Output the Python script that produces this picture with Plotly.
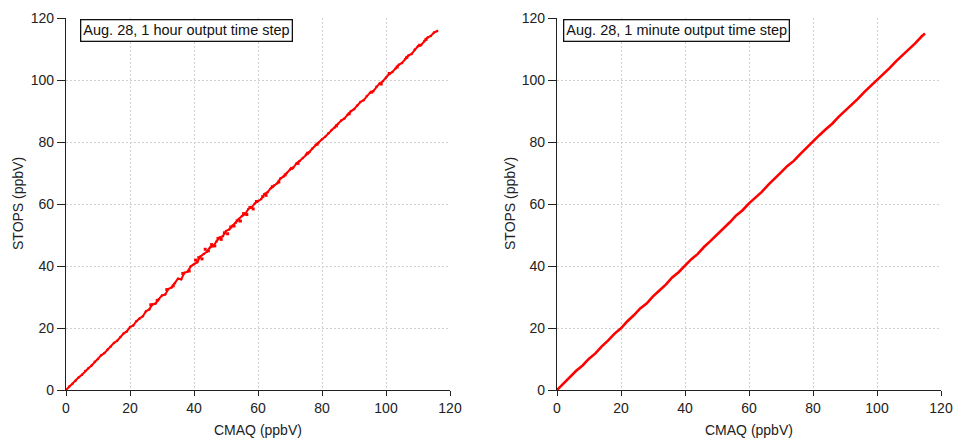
import plotly.graph_objects as go

# Left panel: 1 hour output time step (main trend of the dense cloud)
cmaq_hour = list(range(0, 117))
stops_hour = [
    0.0, 1.1, 1.9, 3.0, 4.1, 4.9, 6.1, 7.0, 7.9, 9.1,
    10.0, 11.2, 11.9, 13.1, 14.0, 15.2, 15.9, 17.1, 18.2, 18.9,
    20.3, 20.8, 22.2, 23.1, 23.8, 25.4, 26.0, 27.6, 27.9, 29.3,
    30.5, 30.8, 32.6, 33.1, 34.4, 35.9, 35.7, 37.8, 38.2, 39.9,
    40.6, 41.2, 43.1, 43.9, 44.6, 46.0, 46.4, 47.9, 49.2, 49.6,
    51.3, 51.8, 53.0, 53.9, 55.2, 56.1, 56.8, 58.4, 58.9, 60.2,
    61.0, 61.6, 63.2, 63.8, 65.1, 66.0, 66.7, 68.2, 68.9, 70.0,
    71.1, 71.7, 73.1, 73.9, 74.8, 76.0, 76.7, 77.9, 79.0, 79.8,
    80.9, 81.7, 82.8, 83.9, 84.7, 85.8, 86.9, 87.6, 88.8, 89.9,
    90.6, 91.8, 92.9, 93.5, 94.8, 95.9, 96.4, 97.8, 98.9, 99.6,
    100.8, 101.9, 102.6, 103.7, 104.9, 105.5, 106.8, 107.9, 108.4, 109.8,
    110.9, 111.3, 112.6, 113.7, 114.2, 115.3, 115.8,
]

# Left panel: scattered points around the cloud
cmaq_hour_extra = [26.5, 28.5, 31.5, 33.5, 36.5, 38.5, 40.5, 41.5, 42.5, 43.5,
                   44.5, 45.5, 46.5, 47.5, 48.5, 49.5, 50.5, 51.5, 52.5, 53.5,
                   54.5, 55.5, 56.5, 57.5, 58.5, 59.5, 61.5, 62.5, 64.5, 66.5,
                   68.5, 70.5, 72.5, 75.5, 78.5, 84.5, 88.5, 95.5, 98.5, 101.0,
                   103.5, 106.5, 110.5, 112.5]
stops_hour_extra = [27.5, 28.9, 32.4, 33.6, 37.6, 38.4, 41.9, 42.7, 42.3, 45.4,
                    44.9, 46.9, 46.5, 48.9, 48.6, 50.7, 50.4, 52.6, 52.9, 54.6,
                    54.5, 56.9, 56.6, 58.9, 58.4, 60.8, 62.4, 62.8, 65.6, 67.1,
                    69.4, 71.5, 73.1, 76.4, 79.3, 85.2, 89.1, 96.1, 98.7, 102.1,
                    104.2, 107.3, 111.2, 113.1]

# Right panel: 1 minute output time step
cmaq_minute = [0, 2, 4, 6, 8, 10, 12, 14, 16, 18, 20, 22, 24, 26, 28, 30,
               32, 34, 36, 38, 40, 42, 44, 46, 48, 50, 52, 54, 56, 58, 60,
               62, 64, 66, 68, 70, 72, 74, 76, 78, 80, 82, 84, 86, 88, 90,
               92, 94, 96, 98, 100, 102, 104, 106, 108, 110, 112, 114, 115]
stops_minute = [0.0, 2.1, 3.9, 6.2, 7.9, 10.1, 11.8, 14.1, 16.0, 18.2, 19.9,
                22.2, 24.1, 26.3, 27.9, 30.2, 32.1, 34.0, 36.3, 38.0, 40.1,
                42.2, 43.9, 46.2, 48.1, 50.0, 52.2, 54.1, 56.3, 58.0, 60.2,
                62.1, 63.9, 66.2, 68.1, 70.2, 72.3, 73.9, 76.1, 78.2, 80.0,
                82.2, 84.1, 85.9, 88.1, 90.0, 92.2, 93.9, 96.1, 98.0, 100.2,
                102.0, 103.9, 106.1, 108.0, 110.1, 111.9, 114.1, 115.0]

tick_vals = [0, 20, 40, 60, 80, 100, 120]
tick_text = ["0", "20", "40", "60", "80", "100", "120"]
panel_labels = ["Aug. 28, 1 hour output time step", "Aug. 28, 1 minute output time step"]
x_title = "CMAQ (ppbV)"
y_title = "STOPS (ppbV)"

W, H = 954, 439
FONT = "Liberation Sans, Arial, sans-serif"
RED = "#ff0000"

fig = go.Figure()
fig.add_trace(go.Scatter(x=cmaq_hour, y=stops_hour, mode="lines+markers",
                         line=dict(color=RED, width=2.0),
                         marker=dict(color=RED, size=2.5),
                         xaxis="x", yaxis="y", showlegend=False))
fig.add_trace(go.Scatter(x=cmaq_hour_extra, y=stops_hour_extra, mode="markers",
                         marker=dict(color=RED, size=3, symbol="square"),
                         xaxis="x", yaxis="y", showlegend=False))
fig.add_trace(go.Scatter(x=cmaq_minute, y=stops_minute, mode="lines",
                         line=dict(color=RED, width=2.6),
                         xaxis="x2", yaxis="y2", showlegend=False))

def px_x(p):
    return p / W

def px_y(p):
    return (H - p) / H

ydom = [px_y(390), px_y(18)]
left_dom = [px_x(66), px_x(450)]
right_dom = [px_x(557), px_x(941)]

axis_common = dict(range=[0, 120], tickvals=tick_vals, ticktext=tick_text,
                   automargin=False,
                   showgrid=True, gridcolor="#d0d0d0", griddash="2px,2px", gridwidth=1,
                   showline=True, linecolor="#222222", linewidth=1.3,
                   ticks="outside", tickcolor="#222222", tickwidth=1.3,
                   tickfont=dict(family=FONT, size=14, color="#222222"),
                   zeroline=False, fixedrange=True)

# overlay axes giving the x ticks that cross the axis line
inner_ticks = dict(range=[0, 120], tickvals=tick_vals, automargin=False,
                   showgrid=False, showline=False, zeroline=False,
                   showticklabels=False, ticks="inside", ticklen=5,
                   tickcolor="#222222", tickwidth=1.3, fixedrange=True)

fig.update_layout(
    width=W, height=H,
    margin=dict(l=0, r=0, t=0, b=0, pad=0, autoexpand=False),
    paper_bgcolor="white", plot_bgcolor="white",
    xaxis=dict(domain=left_dom, anchor="y", ticklen=5, **axis_common),
    yaxis=dict(domain=ydom, anchor="x", ticklen=8, **axis_common),
    xaxis2=dict(domain=right_dom, anchor="y2", ticklen=5, **axis_common),
    yaxis2=dict(domain=ydom, anchor="x2", ticklen=8, **axis_common),
    xaxis3=dict(overlaying="x", anchor="y", **inner_ticks),
    xaxis4=dict(overlaying="x2", anchor="y2", **inner_ticks),
)

ann = []
for dom, lab, ylab_x, box_x in [(left_dom, panel_labels[0], 18, 80),
                                  (right_dom, panel_labels[1], 510, 563)]:
    ann.append(dict(text=x_title, x=(dom[0] + dom[1]) / 2, y=px_y(430),
                    xref="paper", yref="paper", showarrow=False,
                    xanchor="center", yanchor="middle",
                    font=dict(family=FONT, size=14, color="#222222")))
    ann.append(dict(text=y_title, x=px_x(ylab_x), y=(ydom[0] + ydom[1]) / 2,
                    xref="paper", yref="paper", showarrow=False, textangle=-90,
                    xanchor="center", yanchor="middle",
                    font=dict(family=FONT, size=14, color="#222222")))
    ann.append(dict(text=lab, x=px_x(box_x), y=px_y(19),
                    xref="paper", yref="paper", showarrow=False,
                    xanchor="left", yanchor="top", bgcolor="white",
                    bordercolor="#111111", borderwidth=1.3, borderpad=2,
                    font=dict(family=FONT, size=14.5, color="#111111")))
fig.update_layout(annotations=ann)

fig.write_html("out.html")
